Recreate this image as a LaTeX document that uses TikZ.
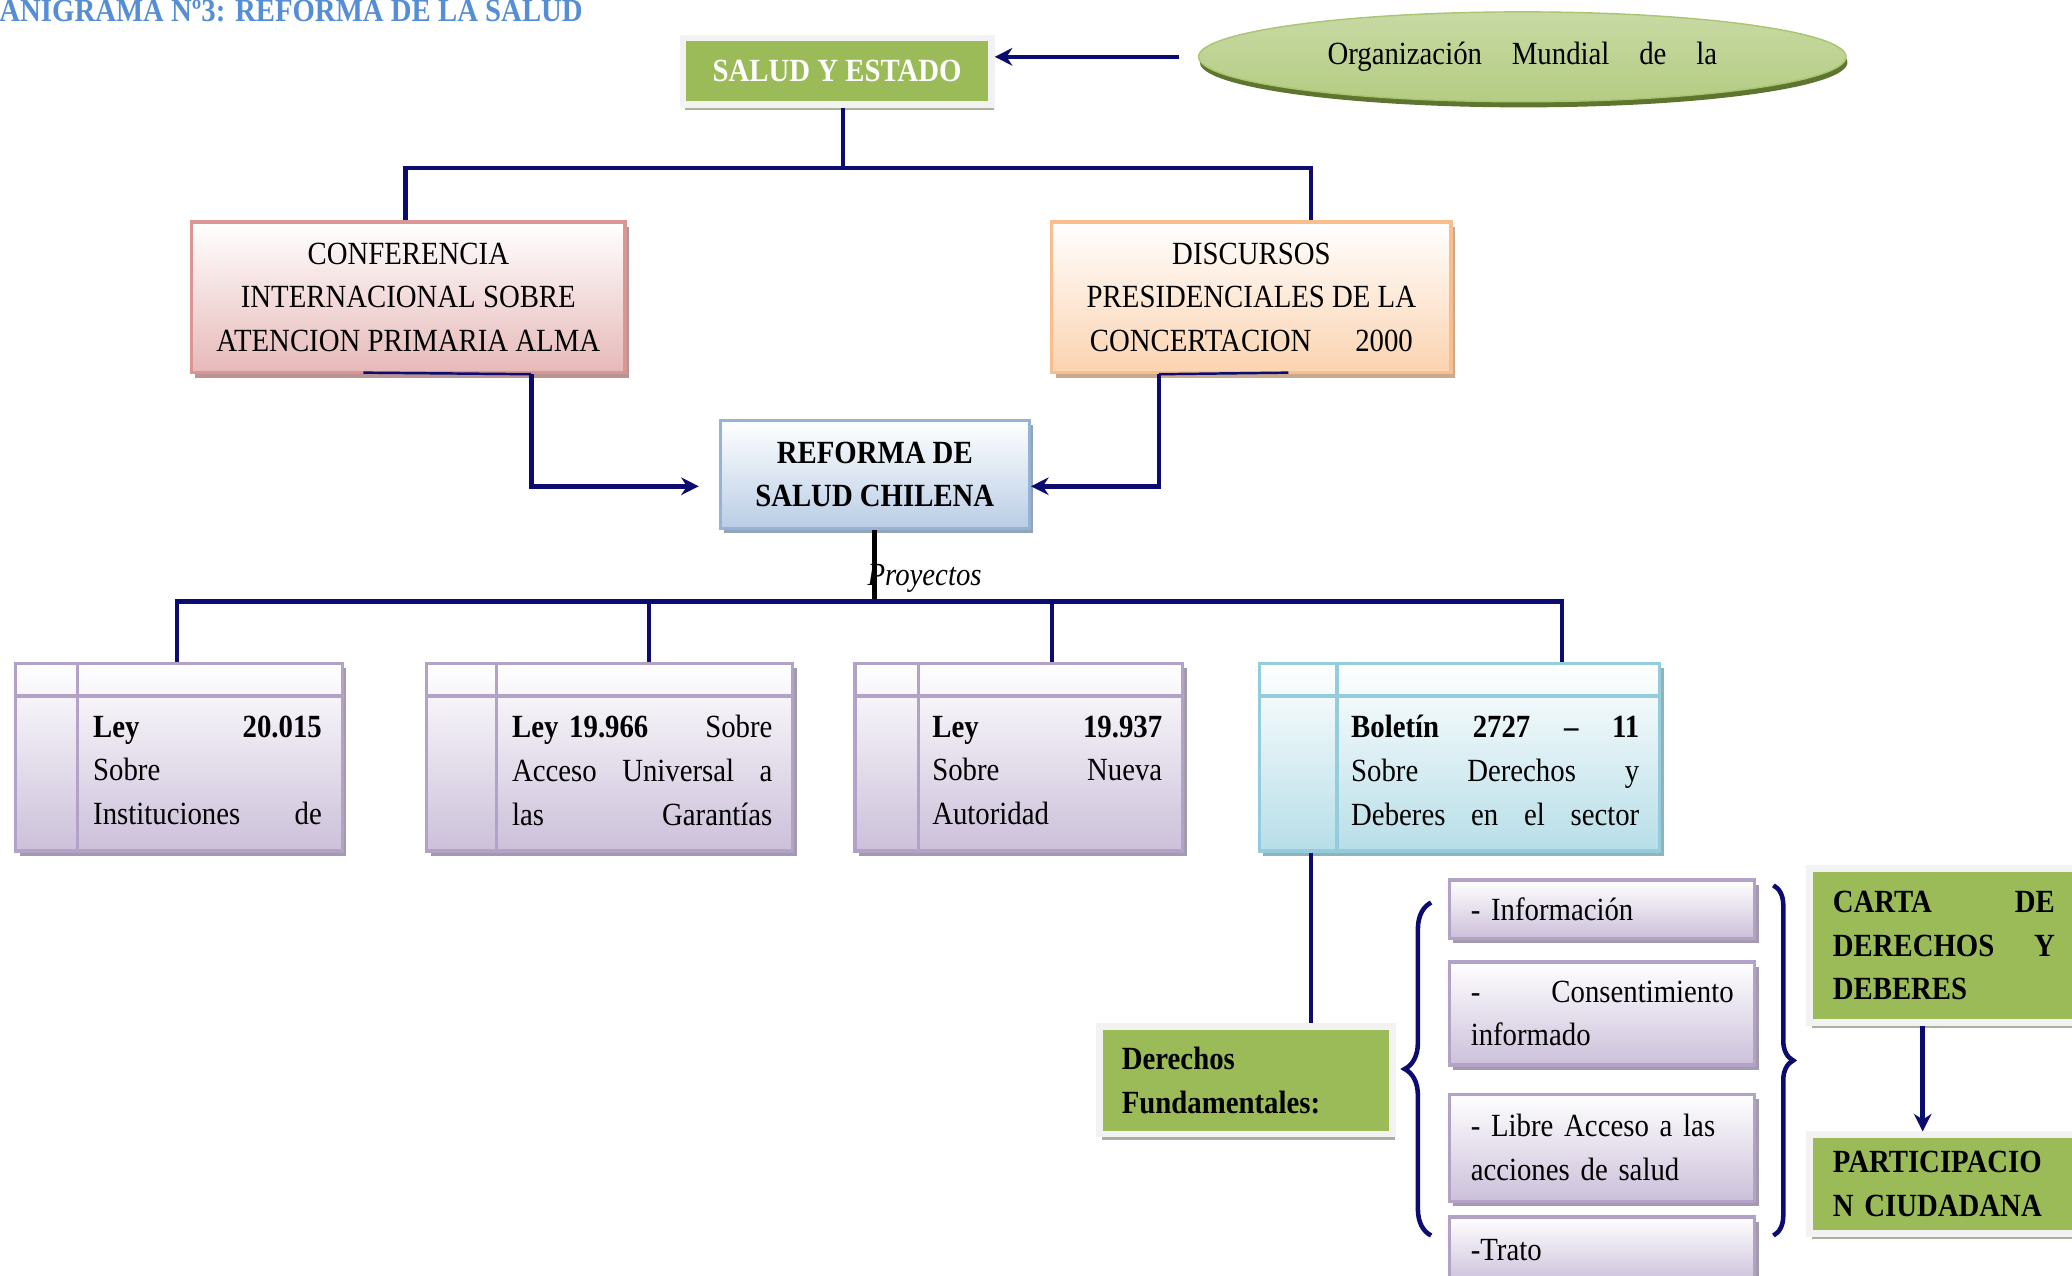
\documentclass[tikz,border=0pt]{standalone}
\usepackage{fontspec}
\setmainfont{Liberation Serif}[FakeStretch=0.89]
\usepackage{xcolor}
\usetikzlibrary{arrows.meta,shapes.geometric,shadows,decorations.pathreplacing}

\definecolor{navy}{RGB}{12,12,112}
\definecolor{titleblue}{HTML}{558ED5}
\definecolor{leaf}{HTML}{9BBB59}
\definecolor{leaflight}{HTML}{C4D79B}
\definecolor{leafdark}{HTML}{5E7530}
\definecolor{frame}{HTML}{F2F2F2}
\definecolor{frameshadow}{HTML}{A9B198}
\definecolor{rosebot}{HTML}{E6B9B8}
\definecolor{roseline}{HTML}{D99694}
\definecolor{peachbot}{HTML}{FBD3B0}
\definecolor{peachline}{HTML}{F9BE8C}
\definecolor{skybot}{HTML}{B9CDE5}
\definecolor{skyline}{HTML}{95B3D7}
\definecolor{lilacbot}{HTML}{CCC0DA}
\definecolor{lilacline}{HTML}{B3A2C7}
\definecolor{aquabot}{HTML}{B7DEE8}
\definecolor{aqualine}{HTML}{93CDDD}

\newlength{\pxl}\setlength{\pxl}{0.013214cm}
\newcommand{\txtsize}{\fontsize{9.2pt}{12.4pt}\selectfont}

\begin{document}
\begin{tikzpicture}[
    x=0.013214cm, y=-0.013214cm,
    lbl/.style={font=\txtsize, inner sep=0pt},
    link/.style={draw=navy, line width=1.3pt},
    flow/.style={link, -{Stealth[length=5pt,width=5pt]}},
    stem/.style={draw=black, line width=1.4pt},
    gbox/.style 2 args={rectangle, draw=#1, line width=0.9pt, top color=white, bottom color=#2,
        drop shadow={shadow xshift=1.1pt, shadow yshift=-1.4pt, fill=#2!80!black, opacity=1}},
    leafbox/.style={rectangle, fill=leaf, draw=frame, line width=5\pxl, lbl,
        drop shadow={shadow xshift=0.6pt, shadow yshift=-1.6pt, fill=frameshadow, opacity=1}},
    item/.style={gbox={lilacline}{lilacbot}, lbl, minimum width=231\pxl, text width=199\pxl,
        inner xsep=16\pxl, align=left},
    curly/.style={navy, line width=1.3pt, decorate, decoration={brace, amplitude=#1}},
]
\useasboundingbox (0,0) rectangle (1568,965);
\clip (0,0) rectangle (1568,965);

% ---- title and top level ----
\node[lbl, font=\txtsize\bfseries, text=titleblue, anchor=base west] (title) at (-1,16)
  {ANIGRAMA Nº3: REFORMA DE LA SALUD};

\node[leafbox, font=\txtsize\bfseries, text=white, minimum width=233.5\pxl,
      minimum height=50.5\pxl] (salud) at (633.5,54) {SALUD Y ESTADO};

\node[ellipse, lbl, minimum width=490\pxl, minimum height=68\pxl, draw=leaf!85!white,
      top color=leaf!55!white, middle color=leaf, bottom color=leaf!75!white,
      drop shadow={shadow xshift=0.4pt, shadow yshift=-1.6pt, fill=leafdark, opacity=1}]
  (oms) at (1152,43) {\raisebox{1pt}{Organización\hspace{8.5pt}Mundial\hspace{8.5pt}de\hspace{8.5pt}la}};

\draw[flow, shorten <=14\pxl] (oms.west) -- (oms.west -| salud.east);

% ---- sources of the reform ----
\node[gbox={roseline}{rosebot}, lbl, align=center, minimum width=328\pxl,
      minimum height=114\pxl] (conf) at (309,225)
  {CONFERENCIA\\INTERNACIONAL SOBRE\\ATENCION PRIMARIA ALMA};
\node[gbox={peachline}{peachbot}, lbl, align=center, minimum width=302\pxl,
      minimum height=114\pxl] (disc) at (947,225)
  {DISCURSOS\\PRESIDENCIALES DE LA\\CONCERTACION\hspace{12.5pt}2000};
\node[gbox={skyline}{skybot}, lbl, font=\txtsize\bfseries, align=center,
      minimum width=234\pxl, minimum height=82\pxl] (reforma) at (662,359)
  {REFORMA DE\\SALUD CHILENA};

\coordinate (t) at (638,127);
\coordinate (b1l) at (307,127);
\coordinate (b1r) at (992,127);
\draw[link] (salud.south -| t) -- (t);
\draw[link] (conf.north -| b1l) -- (b1l) -- (b1r) -- (disc.north -| b1r);

\coordinate (c1a) at (275,282);
\coordinate (c1) at (402,368);
\coordinate (c2a) at (975,282);
\coordinate (c2) at (877,368);
\draw[link, line width=0.7pt] (c1a) -- (conf.south -| c1);
\draw[link, line width=0.7pt] (c2a) -- (disc.south -| c2);
\draw[flow, shorten >=15\pxl] (conf.south -| c1) -- (c1) -- (reforma.west |- c1);
\draw[flow] (disc.south -| c2) -- (c2) -- (reforma.east |- c2);

% ---- proyectos ----
\node[gbox={lilacline}{lilacbot}, minimum width=247\pxl, minimum height=142\pxl] (ley1) at (135.5,573) {};
\node[gbox={lilacline}{lilacbot}, minimum width=277\pxl, minimum height=142\pxl] (ley2) at (461.5,573) {};
\node[gbox={lilacline}{lilacbot}, minimum width=248\pxl, minimum height=142\pxl] (ley3) at (771,573) {};
\node[gbox={aqualine}{aquabot}, minimum width=303\pxl, minimum height=142\pxl] (ley4) at (1104.5,573) {};
\foreach \b/\c/\w/\col in {ley1/48/247/lilacline, ley2/54/277/lilacline,
                           ley3/49/248/lilacline, ley4/60/303/aqualine} {
  \draw[\col, line width=0.9pt] (\b.north west) ++(\c,0) -- ++(0,142);
  \draw[\col, line width=1.3pt] (\b.north west) ++(0,26) -- ++(\w,0);
}

\node[lbl, text width=173\pxl, align=left, anchor=west] (ley1t) at (70,583)
  {\textbf{Ley}\hfill\textbf{20.015}\\Sobre\\Instituciones\hfill de};
\node[lbl, text width=197\pxl, align=left, anchor=west] (ley2t) at (387,583)
  {\textbf{Ley 19.966}\hfill Sobre\\Acceso\hfill Universal\hfill a\\las\hfill Garantías};
\node[lbl, text width=174\pxl, align=left, anchor=west] (ley3t) at (705,583)
  {\textbf{Ley}\hfill\textbf{19.937}\\Sobre\hfill Nueva\\Autoridad};
\node[lbl, text width=218\pxl, align=left, anchor=west] (ley4t) at (1022,583)
  {\textbf{Boletín}\hfill\textbf{2727}\hfill\textbf{–}\hfill\textbf{11}\\Sobre\hfill Derechos\hfill y\\Deberes\hfill en\hfill el\hfill sector};

\node[lbl, font=\txtsize\itshape, anchor=base west] (proy) at (656,443) {Proyectos};
\draw[stem] (reforma.south) -- (reforma.south |- 0,455);

\foreach \k/\x in {1/134, 2/491, 3/796, 4/1182}
  \coordinate (d\k) at (\x,455);
\draw[link] (ley1.north -| d1) -- (d1) -- (d4) -- (ley4.north -| d4);
\draw[link] (d2) -- (ley2.north -| d2);
\draw[link] (d3) -- (ley3.north -| d3);

% ---- derechos fundamentales ----
\node[leafbox, font=\txtsize\bfseries, text width=188\pxl, inner xsep=17\pxl, align=left,
      minimum height=81.5\pxl] (dere) at (943,817.5) {Derechos\\Fundamentales:};
\coordinate (d5) at (992,700);
\draw[link] (ley4.south -| d5) -- (dere.north -| d5);

\node[item, minimum height=44\pxl] (li1) at (1212.5,688) {- Información};
\node[item, minimum height=78\pxl] (li2) at (1212.5,767) {-\hfill Consentimiento\\informado};
\node[item, minimum height=81\pxl] (li3) at (1212.5,868.5) {- Libre Acceso a las\\acciones de salud};
\node[item, minimum height=50\pxl] (li4) at (1212.5,946) {-Trato};

\draw[curly=20\pxl] (1083,935) -- (1083,683);
\draw[curly=15\pxl] (1342,670) -- (1342,935);

% ---- carta ----
\node[leafbox, font=\txtsize\bfseries, text width=168\pxl, inner xsep=17.5\pxl, align=left,
      minimum height=116.5\pxl] (carta) at (1471,715.5) {CARTA\hfill DE\\DERECHOS\hfill Y\\DEBERES};
\node[leafbox, font=\txtsize\bfseries, text width=168\pxl, inner xsep=17.5\pxl, align=left,
      minimum height=74.5\pxl] (part) at (1471,896) {PARTICIPACIO\\N CIUDADANA};
\coordinate (cp) at (1455,0);
\draw[flow] (carta.south -| cp) -- (part.north -| cp);

\end{tikzpicture}
\end{document}
